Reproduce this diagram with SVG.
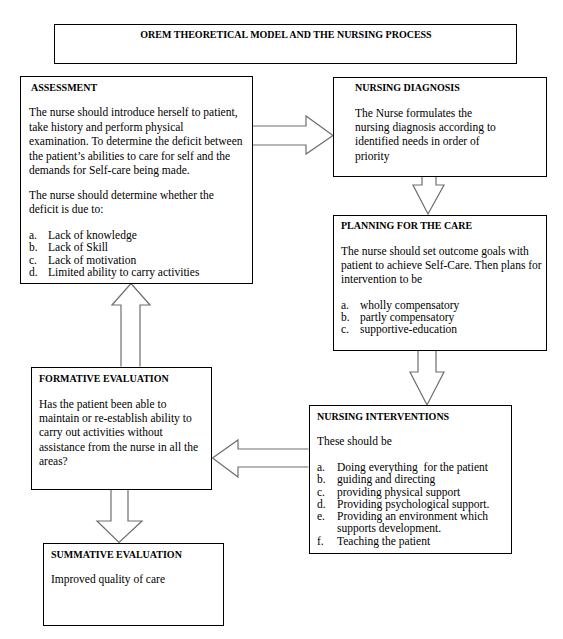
<svg xmlns="http://www.w3.org/2000/svg" width="563" height="639" viewBox="0 0 563 639">
<style>
.box{fill:#fff;stroke:#000;stroke-width:1}
.arr{fill:#fff;stroke:#6e6e6e;stroke-width:1.2;stroke-linejoin:miter}
text{font-family:"Liberation Serif","Times New Roman",serif;font-size:11.5px;fill:#000}
.h{font-weight:bold;font-size:10px}
</style>
<rect width="563" height="639" fill="#fff"/>
<g id="connectors">
<path class="arr" d="M252.5,126 H306 V116 L333,135.5 L306,154 V145 H252.5"/>
<path class="arr" d="M422,176.5 V185 H413 L428,214 L444,185 H436 V176.5"/>
<path class="arr" d="M418,350.5 V372 H410 L427,405 L444,372 H436 V350.5"/>
<path class="arr" d="M308.5,449 H238 V440 L212.5,458 L238,477 V467 H308.5"/>
<path class="arr" d="M121,366.5 V305 H112 L131,283.5 L150,305 H140 V366.5"/>
<path class="arr" d="M111,489.5 V521 H97 L119,542.5 L142,521 H128 V489.5"/>
</g>
<g id="title">
<rect class="box" x="54.5" y="24.5" width="462" height="39"/>
<text class="h" x="286" y="38" text-anchor="middle">OREM THEORETICAL MODEL AND THE NURSING PROCESS</text>
</g>
<g id="assessment">
<rect class="box" x="20.5" y="76.5" width="232" height="207"/>
<text class="h" x="31" y="91">ASSESSMENT</text>
<text x="29" y="116">The nurse should introduce herself to patient,</text>
<text x="29" y="131">take history and perform physical</text>
<text x="29" y="145">examination. To determine the deficit between</text>
<text x="29" y="160">the patient’s abilities to care for self and the</text>
<text x="29" y="174">demands for Self-care being made.</text>
<text x="29" y="199">The nurse should determine whether the</text>
<text x="29" y="213">deficit is due to:</text>
<text x="29" y="239">a.</text><text x="48" y="239">Lack of knowledge</text>
<text x="29" y="251">b.</text><text x="48" y="251">Lack of Skill</text>
<text x="29" y="264">c.</text><text x="48" y="264">Lack of motivation</text>
<text x="29" y="276">d.</text><text x="48" y="276">Limited ability to carry activities</text>
</g>
<g id="diagnosis">
<rect class="box" x="333.5" y="77.5" width="213" height="99"/>
<text class="h" x="355" y="91">NURSING DIAGNOSIS</text>
<text x="355" y="117">The Nurse formulates the</text>
<text x="355" y="131">nursing diagnosis according to</text>
<text x="355" y="145">identified needs in order of</text>
<text x="355" y="160">priority</text>
</g>
<g id="planning">
<rect class="box" x="333.5" y="215.5" width="213" height="135"/>
<text class="h" x="341" y="229">PLANNING FOR THE CARE</text>
<text x="341" y="255">The nurse should set outcome goals with</text>
<text x="341" y="269">patient to achieve Self-Care. Then plans for</text>
<text x="341" y="283">intervention to be</text>
<text x="341" y="309">a.</text><text x="360" y="309">wholly compensatory</text>
<text x="341" y="321">b.</text><text x="360" y="321">partly compensatory</text>
<text x="341" y="333">c.</text><text x="360" y="333">supportive-education</text>
</g>
<g id="interventions">
<rect class="box" x="309.5" y="405.5" width="202" height="148"/>
<text class="h" x="317" y="420">NURSING INTERVENTIONS</text>
<text x="317" y="445">These should be</text>
<text x="317" y="471">a.</text><text x="337" y="471" style="white-space:pre">Doing everything  for the patient</text>
<text x="317" y="483">b.</text><text x="337" y="483">guiding and directing</text>
<text x="317" y="496">c.</text><text x="337" y="496">providing physical support</text>
<text x="317" y="508">d.</text><text x="337" y="508">Providing psychological support.</text>
<text x="317" y="520">e.</text><text x="337" y="520">Providing an environment which</text>
<text x="337" y="532">supports development.</text>
<text x="317" y="545">f.</text><text x="337" y="545">Teaching the patient</text>
</g>
<g id="formative">
<rect class="box" x="31.5" y="367.5" width="180" height="122"/>
<text class="h" x="39" y="382">FORMATIVE EVALUATION</text>
<text x="39" y="408">Has the patient been able to</text>
<text x="39" y="422">maintain or re-establish ability to</text>
<text x="39" y="436">carry out activities without</text>
<text x="39" y="451">assistance from the nurse in all the</text>
<text x="39" y="465">areas?</text>
</g>
<g id="summative">
<rect class="box" x="43.5" y="543.5" width="180" height="82"/>
<text class="h" x="51" y="558">SUMMATIVE EVALUATION</text>
<text x="51" y="583">Improved quality of care</text>
</g>
</svg>
